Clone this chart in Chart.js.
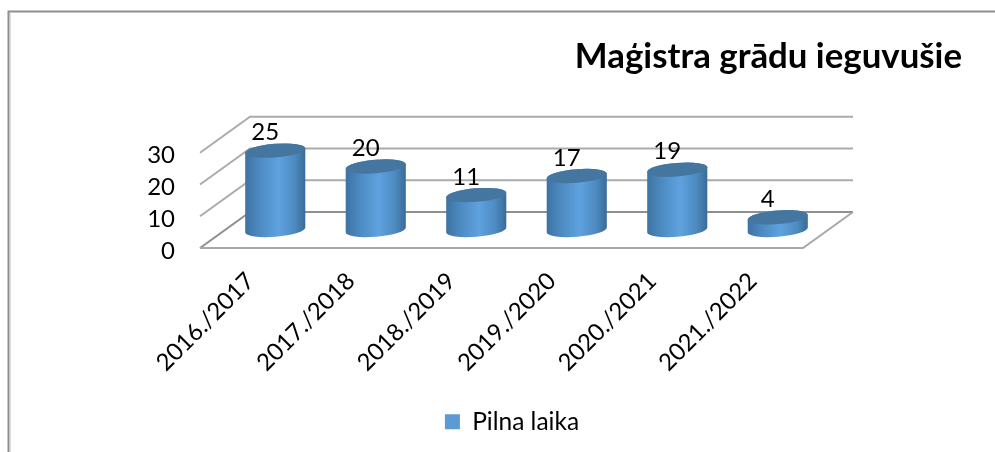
<!DOCTYPE html>
<html>
<head>
<meta charset="utf-8">
<style>html,body{margin:0;padding:0;background:#fff;overflow:hidden}canvas{display:block}</style>
<script src="https://cdn.jsdelivr.net/npm/chart.js@4"></script>
</head>
<body>
<canvas id="c" width="995" height="452"></canvas>
<script>
const categories = ["2016./2017","2017./2018","2018./2019","2019./2020","2020./2021","2021./2022"];
const seriesName = "Pilna laika";
const seriesValues = [25,20,11,17,19,4];
const titleText = "Maģistra grādu ieguvušie";
const FONT = "Lato";
const DX = 50, DY = -36;

function line(ctx, pts, color, w){
  ctx.beginPath();
  pts.forEach((p,i)=> i ? ctx.lineTo(p[0],p[1]) : ctx.moveTo(p[0],p[1]));
  ctx.strokeStyle = color; ctx.lineWidth = w; ctx.stroke();
}
const scene = {
  id: "scene",
  beforeDraw(chart){
    const ctx = chart.ctx;
    ctx.save();
    ctx.fillStyle = "#fff"; ctx.fillRect(0,0,chart.width,chart.height);
    line(ctx,[[8.5,452],[8.5,11.5],[995,11.5]],"#8e8e8e",2);
    line(ctx,[[10.5,13],[10.5,452]],"#dcdcdc",1);
    ctx.restore();
  },
  beforeDatasetsDraw(chart){
    const ctx = chart.ctx, a = chart.chartArea, y = chart.scales.y;
    ctx.save();
    y.ticks.forEach(t=>{
      const py = y.getPixelForValue(t.value);
      const col = t.value===0 ? "#8f8f8f" : "#ababab";
      line(ctx,[[a.left,py],[a.left+DX,py+DY],[a.right+DX,py+DY]],col,2);
    });
    const y0 = y.getPixelForValue(0);
    line(ctx,[[a.left,y0],[a.right,y0],[a.right+DX,y0+DY]],"#a8a8a8",2);
    ctx.restore();
  },
  beforeDatasetDraw(chart, args){
    const ctx = chart.ctx, meta = args.meta, rot = -0.08, bRad = 6.8;
    ctx.save();
    meta.data.forEach((bar,i)=>{
      const r = bar.width/2, cx = bar.x + DX/2;
      const topY = bar.y + DY/2, baseY = bar.base + DY/2;
      const g = ctx.createLinearGradient(cx-r,0,cx+r,0);
      g.addColorStop(0,"#3d72a3"); g.addColorStop(0.2,"#4a87bd");
      g.addColorStop(0.55,"#5fa2e0"); g.addColorStop(0.82,"#4d8ac0");
      g.addColorStop(1,"#3a6b97");
      ctx.beginPath();
      ctx.ellipse(cx,baseY,r,bRad,rot,0,Math.PI);
      ctx.ellipse(cx,topY,r,bRad,rot,Math.PI,Math.PI*2);
      ctx.closePath();
      ctx.fillStyle = g; ctx.fill();
      ctx.beginPath();
      ctx.ellipse(cx,topY,r,bRad,rot,0,Math.PI*2);
      ctx.fillStyle = "#44769f"; ctx.fill();
      ctx.fillStyle = "#000";
      ctx.font = "24px "+FONT; ctx.textAlign = "center"; ctx.textBaseline = "middle";
      ctx.fillText(String(seriesValues[i]), cx-10, topY-18);
    });
    ctx.restore();
    return false;
  }
};
new Chart(document.getElementById("c"),{
  type:"bar",
  data:{labels:categories,datasets:[{label:seriesName,data:seriesValues,backgroundColor:"#5B9BD5",borderWidth:0,
    categoryPercentage:1,barPercentage:0.6,yAxisID:"y"}]},
  plugins:[scene],
  options:{
    responsive:false,animation:false,
    layout:{padding:{left:62,right:33,top:0,bottom:8}},
    plugins:{
      tooltip:{enabled:false},
      title:{display:true,text:titleText,align:"end",color:"#000",
        font:{family:FONT,size:34.8,weight:"bold"},padding:{top:36,bottom:75}},
      legend:{position:"bottom",labels:{boxWidth:15,boxHeight:15,color:"#000",padding:8,
        font:{family:FONT,size:24.5}}}
    },
    scales:{
      x:{grid:{display:false},border:{display:false},
        ticks:{autoSkip:false,minRotation:45,maxRotation:45,padding:11,color:"#000",font:{family:FONT,size:23.8}},
        afterFit(s){s.height=153.5;}},
      y:{min:0,max:30,grid:{display:false},border:{display:false},
        ticks:{autoSkip:false,stepSize:10,padding:17,labelOffset:3,color:"#000",font:{family:FONT,size:24}},
        afterFit(s){s.width=138;}},
      y2:{position:"right",display:true,min:0,max:30,grid:{display:false},border:{display:false},
        ticks:{display:false},afterFit(s){s.width=159;}}
    }
  }
});
</script>
</body>
</html>
